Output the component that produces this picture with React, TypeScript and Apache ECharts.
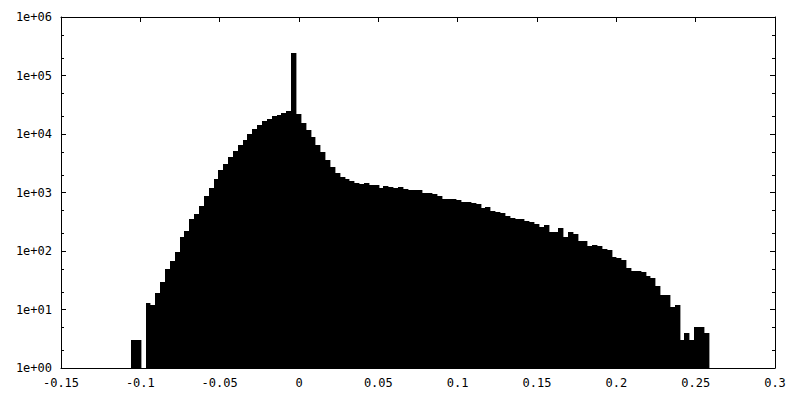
import React, { useEffect, useRef } from "react";
import * as echarts from "echarts";

// Histogram bins: left edge of the first bin and the bin width
const binStart = -0.1059;
const binWidth = 0.00306;
// Counts per bin (log-scale y)
const counts = [
  3, 3, 0,
  13, 12, 19, 29, 49, 68, 97, 176, 223, 358,
  437, 598, 855, 1171, 1671, 2385, 3020, 3981, 5045, 6395,
  7800, 9880, 12030, 14090, 16500, 17860, 20100, 20900, 22600, 24500,
  241600,
  21700, 15240, 11560, 8770, 6395, 4850, 3540, 2685, 2118, 1808,
  1671, 1545, 1426, 1371, 1426, 1318, 1318, 1171, 1270, 1220,
  1171, 1220, 1150, 1082, 1082, 1082, 1000, 1000, 925, 855,
  789, 789, 760, 730, 701, 701, 674, 648, 553, 576,
  491, 472, 454, 403, 373, 358, 358, 331, 318, 294,
  261, 283, 214, 214, 251, 176, 214, 198, 150, 150,
  124, 128, 124, 110, 105, 80, 77, 71, 52, 46,
  46, 44, 38, 34, 25, 18, 18, 11, 12, 3,
  4, 3, 5, 5, 4,
];

const xMin = -0.15;
const xMax = 0.3;
const xStep = 0.05;
const xTickLabels = ["-0.15", "-0.1", "-0.05", "0", "0.05", "0.1", "0.15", "0.2", "0.25", "0.3"];
const yTickLabels = ["1e+00", "1e+01", "1e+02", "1e+03", "1e+04", "1e+05", "1e+06"];
const yMinorTicks = [2, 5, 20, 50, 200, 500, 2000, 5000, 20000, 50000, 200000, 500000];

export default function App() {
  const ref = useRef<HTMLDivElement>(null);
  useEffect(() => {
    if (!ref.current) return;
    const chart = echarts.init(ref.current, undefined, { renderer: "svg" });

    const bins = counts
      .map((c, i) => [binStart + i * binWidth, binStart + (i + 1) * binWidth, c])
      .filter((d) => d[2] > 0);

    const font = { fontFamily: "DejaVu Sans Mono", fontSize: 12, color: "#000" };
    const axisLine = { show: true, onZero: false, lineStyle: { color: "#000", width: 1 } };
    const tick = { show: true, inside: true, length: 5, lineStyle: { color: "#000", width: 1 } };

    const xBase = {
      type: "value",
      min: xMin,
      max: xMax,
      interval: xStep,
      splitLine: { show: false },
      axisLine,
      axisTick: tick,
    };
    const yBase = {
      type: "log",
      logBase: 10,
      min: 1,
      max: 1000000,
      splitNumber: 6,
      splitLine: { show: false },
      minorTick: { show: false },
      axisLine,
      axisTick: tick,
    };

    chart.setOption({
      animation: false,
      backgroundColor: "#fff",
      textStyle: font,
      grid: { left: 61, right: 25, top: 17, bottom: 32, containLabel: false },
      xAxis: [
        {
          ...xBase,
          position: "bottom",
          axisLabel: {
            ...font,
            margin: 9,
            showMinLabel: true,
            showMaxLabel: true,
            formatter: (v: number) => xTickLabels[Math.round((v - xMin) / xStep)] ?? "",
          },
        },
        { ...xBase, position: "top", axisLabel: { show: false } },
      ],
      yAxis: [
        {
          ...yBase,
          position: "left",
          axisLabel: {
            ...font,
            margin: 9,
            showMinLabel: true,
            showMaxLabel: true,
            formatter: (v: number) => yTickLabels[Math.round(Math.log10(v))] ?? "",
          },
        },
        { ...yBase, position: "right", axisLabel: { show: false } },
      ],
      series: [
        {
          type: "custom",
          xAxisIndex: 0,
          yAxisIndex: 0,
          data: bins,
          encode: { x: [0, 1], y: 2 },
          renderItem: (params: any, api: any) => {
            const p0 = api.coord([api.value(0), api.value(2)]);
            const p1 = api.coord([api.value(1), 1]);
            const x0 = Math.round(p0[0]);
            const x1 = Math.round(p1[0]);
            const y0 = Math.round(p0[1]);
            const y1 = Math.round(p1[1]);
            return {
              type: "rect",
              shape: { x: x0, y: y0, width: x1 - x0 + 0.4, height: y1 - y0 },
              style: { fill: "#000" },
            };
          },
        },
        {
          type: "custom",
          xAxisIndex: 0,
          yAxisIndex: 0,
          data: yMinorTicks.map((v) => [xMin, v]),
          encode: { x: 0, y: 1 },
          renderItem: (params: any, api: any) => {
            const l = api.coord([xMin, api.value(1)]);
            const r = api.coord([xMax, api.value(1)]);
            const y = Math.round(l[1]) + 0.5;
            return {
              type: "group",
              children: [
                { type: "line", shape: { x1: l[0], y1: y, x2: l[0] + 3, y2: y }, style: { stroke: "#000", lineWidth: 1 } },
                { type: "line", shape: { x1: r[0] - 3, y1: y, x2: r[0], y2: y }, style: { stroke: "#000", lineWidth: 1 } },
              ],
            };
          },
        },
      ],
    });
    return () => chart.dispose();
  }, []);
  return (
    <div
      ref={ref}
      style={{ position: "absolute", left: 0, top: 0, width: 800, height: 400, background: "#fff" }}
    />
  );
}
